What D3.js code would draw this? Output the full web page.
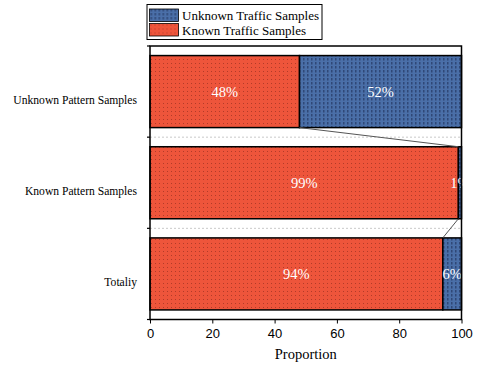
<!DOCTYPE html>
<html>
<head>
<meta charset="utf-8">
<script src="https://cdn.jsdelivr.net/npm/d3@7"></script>
<style>
  body { margin: 0; background: #fff; }
  svg { display: block; }
</style>
</head>
<body>
<div id="chart"></div>
<script>
const categories = ['Unknown Pattern Samples', 'Known Pattern Samples', 'Totaliy'];
const knownShare = [48, 99, 94];
const unknownShare = [52, 1, 6];
const seriesNames = ['Unknown Traffic Samples', 'Known Traffic Samples'];
const xTicks = [0, 20, 40, 60, 80, 100];

const RED = '#ee553b';
const BLUE = '#4a6fa8';

const W = 477;
const H = 368;
const margin = { top: 46, right: 15.5, bottom: 48.5, left: 150 };
const width = W - margin.left - margin.right;
const height = H - margin.top - margin.bottom;

const root = d3.select('#chart').append('svg').attr('width', W).attr('height', H);

// dotted textures like the original fills
const defs = root.append('defs');
const redPat = defs.append('pattern').attr('id', 'pat-red').attr('patternUnits', 'userSpaceOnUse')
  .attr('width', 4).attr('height', 4);
redPat.append('rect').attr('width', 4).attr('height', 4).attr('fill', RED);
redPat.append('rect').attr('x', 1).attr('y', 1).attr('width', 1).attr('height', 1).attr('fill', '#8a2a1c').attr('opacity', 0.6);

const bluePat = defs.append('pattern').attr('id', 'pat-blue').attr('patternUnits', 'userSpaceOnUse')
  .attr('width', 4).attr('height', 4);
bluePat.append('rect').attr('width', 4).attr('height', 4).attr('fill', BLUE);
bluePat.append('rect').attr('x', 1).attr('y', 0).attr('width', 1.5).attr('height', 2.5).attr('fill', '#1c2f57').attr('opacity', 0.6);

const svg = root.append('g').attr('transform', `translate(${margin.left},${margin.top})`);

const x = d3.scaleLinear().domain([0, 100]).range([0, width]);
const y = d3.scaleBand().domain(categories).range([0, height]).paddingInner(0.21).paddingOuter(0.105);

const rows = categories.map((c, i) => ({ cat: c, known: knownShare[i], unknown: unknownShare[i] }));

// dashed separators between bands
const boundaries = d3.range(1, categories.length).map((i) => i * y.step());
svg.append('g').selectAll('line').data(boundaries).enter().append('line')
  .attr('x1', 0).attr('x2', width).attr('y1', (d) => d).attr('y2', (d) => d)
  .attr('stroke', '#bbb').attr('stroke-width', 0.8).attr('stroke-dasharray', '2,2');

// bars
const bars = svg.append('g').selectAll('g').data(rows).enter().append('g');
bars.append('rect')
  .attr('x', x(0)).attr('y', (d) => y(d.cat))
  .attr('width', (d) => x(d.known) - x(0)).attr('height', y.bandwidth())
  .attr('fill', 'url(#pat-red)').attr('stroke', '#000').attr('stroke-width', 1.5);
bars.append('rect')
  .attr('x', (d) => x(d.known)).attr('y', (d) => y(d.cat))
  .attr('width', (d) => x(d.known + d.unknown) - x(d.known)).attr('height', y.bandwidth())
  .attr('fill', 'url(#pat-blue)').attr('stroke', '#000').attr('stroke-width', 1.5);

// connector lines between the end of the known segments
const links = rows.slice(1).map((d, i) => ({ from: rows[i], to: d }));
svg.append('g').selectAll('line').data(links).enter().append('line')
  .attr('x1', (d) => x(d.from.known)).attr('y1', (d) => y(d.from.cat) + y.bandwidth())
  .attr('x2', (d) => x(d.to.known)).attr('y2', (d) => y(d.to.cat))
  .attr('stroke', '#555').attr('stroke-width', 1);

// percentage labels
const labelStyle = (sel) => sel
  .attr('text-anchor', 'middle').attr('dominant-baseline', 'central')
  .attr('fill', '#fff').style('font-family', '"Liberation Serif", "Times New Roman", serif')
  .style('font-size', '14.5px');
bars.append('text').call(labelStyle)
  .attr('x', (d) => x(d.known / 2)).attr('y', (d) => y(d.cat) + y.bandwidth() / 2)
  .text((d) => d.known + '%');
bars.append('text').call(labelStyle)
  .attr('x', (d) => x(d.known + d.unknown / 2)).attr('y', (d) => y(d.cat) + y.bandwidth() / 2)
  .text((d) => d.unknown + '%');

// frame
svg.append('rect').attr('x', 0).attr('y', 0).attr('width', width).attr('height', height)
  .attr('fill', 'none').attr('stroke', '#000').attr('stroke-width', 1.5);

// x axis
const xAxis = svg.append('g').attr('transform', `translate(0,${height})`);
xAxis.call(d3.axisBottom(x).tickValues(d3.range(0, 101, 5)).tickSize(2.5).tickFormat(''));
xAxis.call(d3.axisBottom(x).tickValues(xTicks).tickSize(4).tickFormat((d) => d));
xAxis.selectAll('.domain').remove();
xAxis.selectAll('line').attr('stroke', '#000').attr('stroke-width', 1);
xAxis.selectAll('text').attr('dy', '0.9em')
  .style('font-family', '"Liberation Sans", Arial, sans-serif').style('font-size', '13px').attr('fill', '#000');

svg.append('text').attr('x', width / 2).attr('y', height + 39).attr('text-anchor', 'middle')
  .style('font-family', '"Liberation Serif", "Times New Roman", serif').style('font-size', '14.5px')
  .text('Proportion');

// y axis ticks at band boundaries, labels below band centres
const yAxis = svg.append('g');
yAxis.selectAll('line').data([0, ...boundaries, height]).enter().append('line')
  .attr('x1', -3).attr('x2', 0).attr('y1', (d) => d).attr('y2', (d) => d)
  .attr('stroke', '#000').attr('stroke-width', 1.2);
yAxis.selectAll('text').data(categories).enter().append('text')
  .attr('x', -13).attr('y', (d) => y(d) + y.bandwidth() / 2 + 9)
  .attr('text-anchor', 'end').attr('dominant-baseline', 'central')
  .style('font-family', '"Liberation Serif", "Times New Roman", serif').style('font-size', '11.6px')
  .text((d) => d);

// legend
const legend = root.append('g').attr('transform', 'translate(147,4.5)');
legend.append('rect').attr('width', 175).attr('height', 35).attr('fill', '#fff')
  .attr('stroke', '#000').attr('stroke-width', 1);
const legendFills = ['url(#pat-blue)', 'url(#pat-red)'];
const items = legend.selectAll('g.item').data(seriesNames).enter().append('g')
  .attr('transform', (d, i) => `translate(2.5,${4.5 + i * 14.5})`);
items.append('rect').attr('width', 29).attr('height', 12.5)
  .attr('fill', (d, i) => legendFills[i]).attr('stroke', '#000').attr('stroke-width', 0.8);
items.append('text').attr('x', 32.5).attr('y', 6.5).attr('dominant-baseline', 'central')
  .style('font-family', '"Liberation Serif", "Times New Roman", serif').style('font-size', '13px')
  .text((d) => d);
</script>
</body>
</html>
